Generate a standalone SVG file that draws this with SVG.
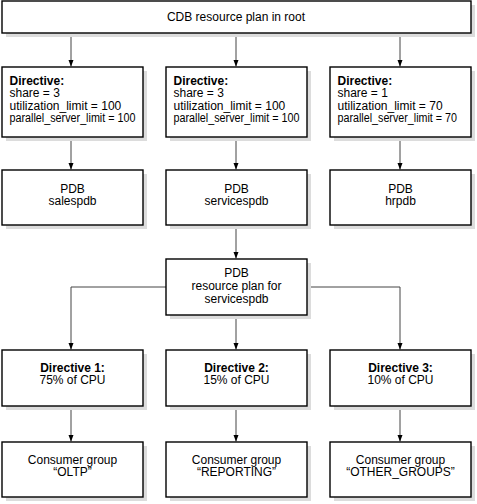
<svg xmlns="http://www.w3.org/2000/svg" width="477" height="504" viewBox="0 0 477 504">
<defs>
<style>
.sh{fill:#dcdcdc;stroke:none}
.bx{fill:#fff;stroke:#000;stroke-width:1.4}
.t{font-family:"Liberation Sans",Arial,sans-serif;font-size:12px;fill:#000}
.c{text-anchor:middle}
.b{font-weight:bold}
.ln{fill:none;stroke:#444;stroke-width:1}
</style>
<marker id="ah" markerWidth="6" markerHeight="7" refX="3" refY="7" orient="auto-start-reverse" markerUnits="userSpaceOnUse" viewBox="0 0 6 7">
<path d="M0,0 L6,0 L3,7 Z" fill="#000"/>
</marker>
</defs>
<rect width="477" height="504" fill="#fff"/>
<g id="connectors">
<path class="ln" d="M71,33.7 V66.3"/>
<path class="ln" d="M236,33.7 V66.3"/>
<path class="ln" d="M400,33.7 V66.3"/>
<path class="ln" d="M71,137.7 V169.3"/>
<path class="ln" d="M236,137.7 V169.3"/>
<path class="ln" d="M400,137.7 V169.3"/>
<path class="ln" d="M236,225.7 V258.3"/>
<path class="ln" d="M166,287 H71 V349.3"/>
<path class="ln" d="M236,315.7 V349.3"/>
<path class="ln" d="M307,287 H400 V349.3"/>
<path class="ln" d="M71,406.7 V441.3"/>
<path class="ln" d="M236,406.7 V441.3"/>
<path class="ln" d="M400,406.7 V441.3"/>
<g fill="#000">
<path d="M68.5,60 L73.5,60 L71,66.8 Z"/>
<path d="M233.5,60 L238.5,60 L236,66.8 Z"/>
<path d="M397.5,60 L402.5,60 L400,66.8 Z"/>
<path d="M68.5,163 L73.5,163 L71,169.8 Z"/>
<path d="M233.5,163 L238.5,163 L236,169.8 Z"/>
<path d="M397.5,163 L402.5,163 L400,169.8 Z"/>
<path d="M233.5,252 L238.5,252 L236,258.8 Z"/>
<path d="M68.5,343 L73.5,343 L71,349.8 Z"/>
<path d="M233.5,343 L238.5,343 L236,349.8 Z"/>
<path d="M397.5,343 L402.5,343 L400,349.8 Z"/>
<path d="M68.5,435 L73.5,435 L71,441.8 Z"/>
<path d="M233.5,435 L238.5,435 L236,441.8 Z"/>
<path d="M397.5,435 L402.5,435 L400,441.8 Z"/>
</g>
</g>
<g id="root">
<rect class="sh" x="6" y="5" width="469" height="32"/>
<rect class="bx" x="2" y="1" width="469" height="32"/>
<text class="t c" x="236" y="21">CDB resource plan in root</text>
</g>
<g id="dir-sales">
<rect class="sh" x="6" y="71" width="141" height="70"/>
<rect class="bx" x="2" y="67" width="141" height="70"/>
<text class="t b" x="9.5" y="85">Directive:</text>
<text class="t" x="9.5" y="97.4">share = 3</text>
<text class="t" x="9.5" y="109.8">utilization_limit = 100</text>
<text class="t" x="9.5" y="122.2" textLength="126" lengthAdjust="spacingAndGlyphs">parallel_server_limit = 100</text>
</g>
<g id="dir-services">
<rect class="sh" x="170" y="71" width="141" height="70"/>
<rect class="bx" x="166" y="67" width="141" height="70"/>
<text class="t b" x="173.5" y="85">Directive:</text>
<text class="t" x="173.5" y="97.4">share = 3</text>
<text class="t" x="173.5" y="109.8">utilization_limit = 100</text>
<text class="t" x="173.5" y="122.2" textLength="126" lengthAdjust="spacingAndGlyphs">parallel_server_limit = 100</text>
</g>
<g id="dir-hr">
<rect class="sh" x="334" y="71" width="141" height="70"/>
<rect class="bx" x="330" y="67" width="141" height="70"/>
<text class="t b" x="337.5" y="85">Directive:</text>
<text class="t" x="337.5" y="97.4">share = 1</text>
<text class="t" x="337.5" y="109.8">utilization_limit = 70</text>
<text class="t" x="337.5" y="122.2" textLength="119.5" lengthAdjust="spacingAndGlyphs">parallel_server_limit = 70</text>
</g>
<g id="pdb-sales">
<rect class="sh" x="6" y="174" width="141" height="55"/>
<rect class="bx" x="2" y="170" width="141" height="55"/>
<text class="t c" x="72.5" y="193">PDB</text>
<text class="t c" x="72.5" y="205">salespdb</text>
</g>
<g id="pdb-services">
<rect class="sh" x="170" y="174" width="141" height="55"/>
<rect class="bx" x="166" y="170" width="141" height="55"/>
<text class="t c" x="236.5" y="193">PDB</text>
<text class="t c" x="236.5" y="205">servicespdb</text>
</g>
<g id="pdb-hr">
<rect class="sh" x="334" y="174" width="141" height="55"/>
<rect class="bx" x="330" y="170" width="141" height="55"/>
<text class="t c" x="400.5" y="193">PDB</text>
<text class="t c" x="400.5" y="205">hrpdb</text>
</g>
<g id="pdb-plan">
<rect class="sh" x="170" y="263" width="141" height="56"/>
<rect class="bx" x="166" y="259" width="141" height="56"/>
<text class="t c" x="236.5" y="277">PDB</text>
<text class="t c" x="236.5" y="290">resource plan for</text>
<text class="t c" x="236.5" y="303">servicespdb</text>
</g>
<g id="directive1">
<rect class="sh" x="6" y="354" width="141" height="56"/>
<rect class="bx" x="2" y="350" width="141" height="56"/>
<text class="t c b" x="72.5" y="372">Directive 1:</text>
<text class="t c" x="72.5" y="384">75% of CPU</text>
</g>
<g id="directive2">
<rect class="sh" x="170" y="354" width="141" height="56"/>
<rect class="bx" x="166" y="350" width="141" height="56"/>
<text class="t c b" x="236.5" y="372">Directive 2:</text>
<text class="t c" x="236.5" y="384">15% of CPU</text>
</g>
<g id="directive3">
<rect class="sh" x="334" y="354" width="141" height="56"/>
<rect class="bx" x="330" y="350" width="141" height="56"/>
<text class="t c b" x="400.5" y="372">Directive 3:</text>
<text class="t c" x="400.5" y="384">10% of CPU</text>
</g>
<g id="cg-oltp">
<rect class="sh" x="6" y="446" width="141" height="55"/>
<rect class="bx" x="2" y="442" width="141" height="55"/>
<text class="t c" x="72.5" y="464">Consumer group</text>
<text class="t c" x="72.5" y="476">“OLTP”</text>
</g>
<g id="cg-reporting">
<rect class="sh" x="170" y="446" width="141" height="55"/>
<rect class="bx" x="166" y="442" width="141" height="55"/>
<text class="t c" x="236.5" y="464">Consumer group</text>
<text class="t c" x="236.5" y="476">“REPORTING”</text>
</g>
<g id="cg-other">
<rect class="sh" x="334" y="446" width="141" height="55"/>
<rect class="bx" x="330" y="442" width="141" height="55"/>
<text class="t c" x="400.5" y="464">Consumer group</text>
<text class="t c" x="400.5" y="476">“OTHER_GROUPS”</text>
</g>
</svg>
